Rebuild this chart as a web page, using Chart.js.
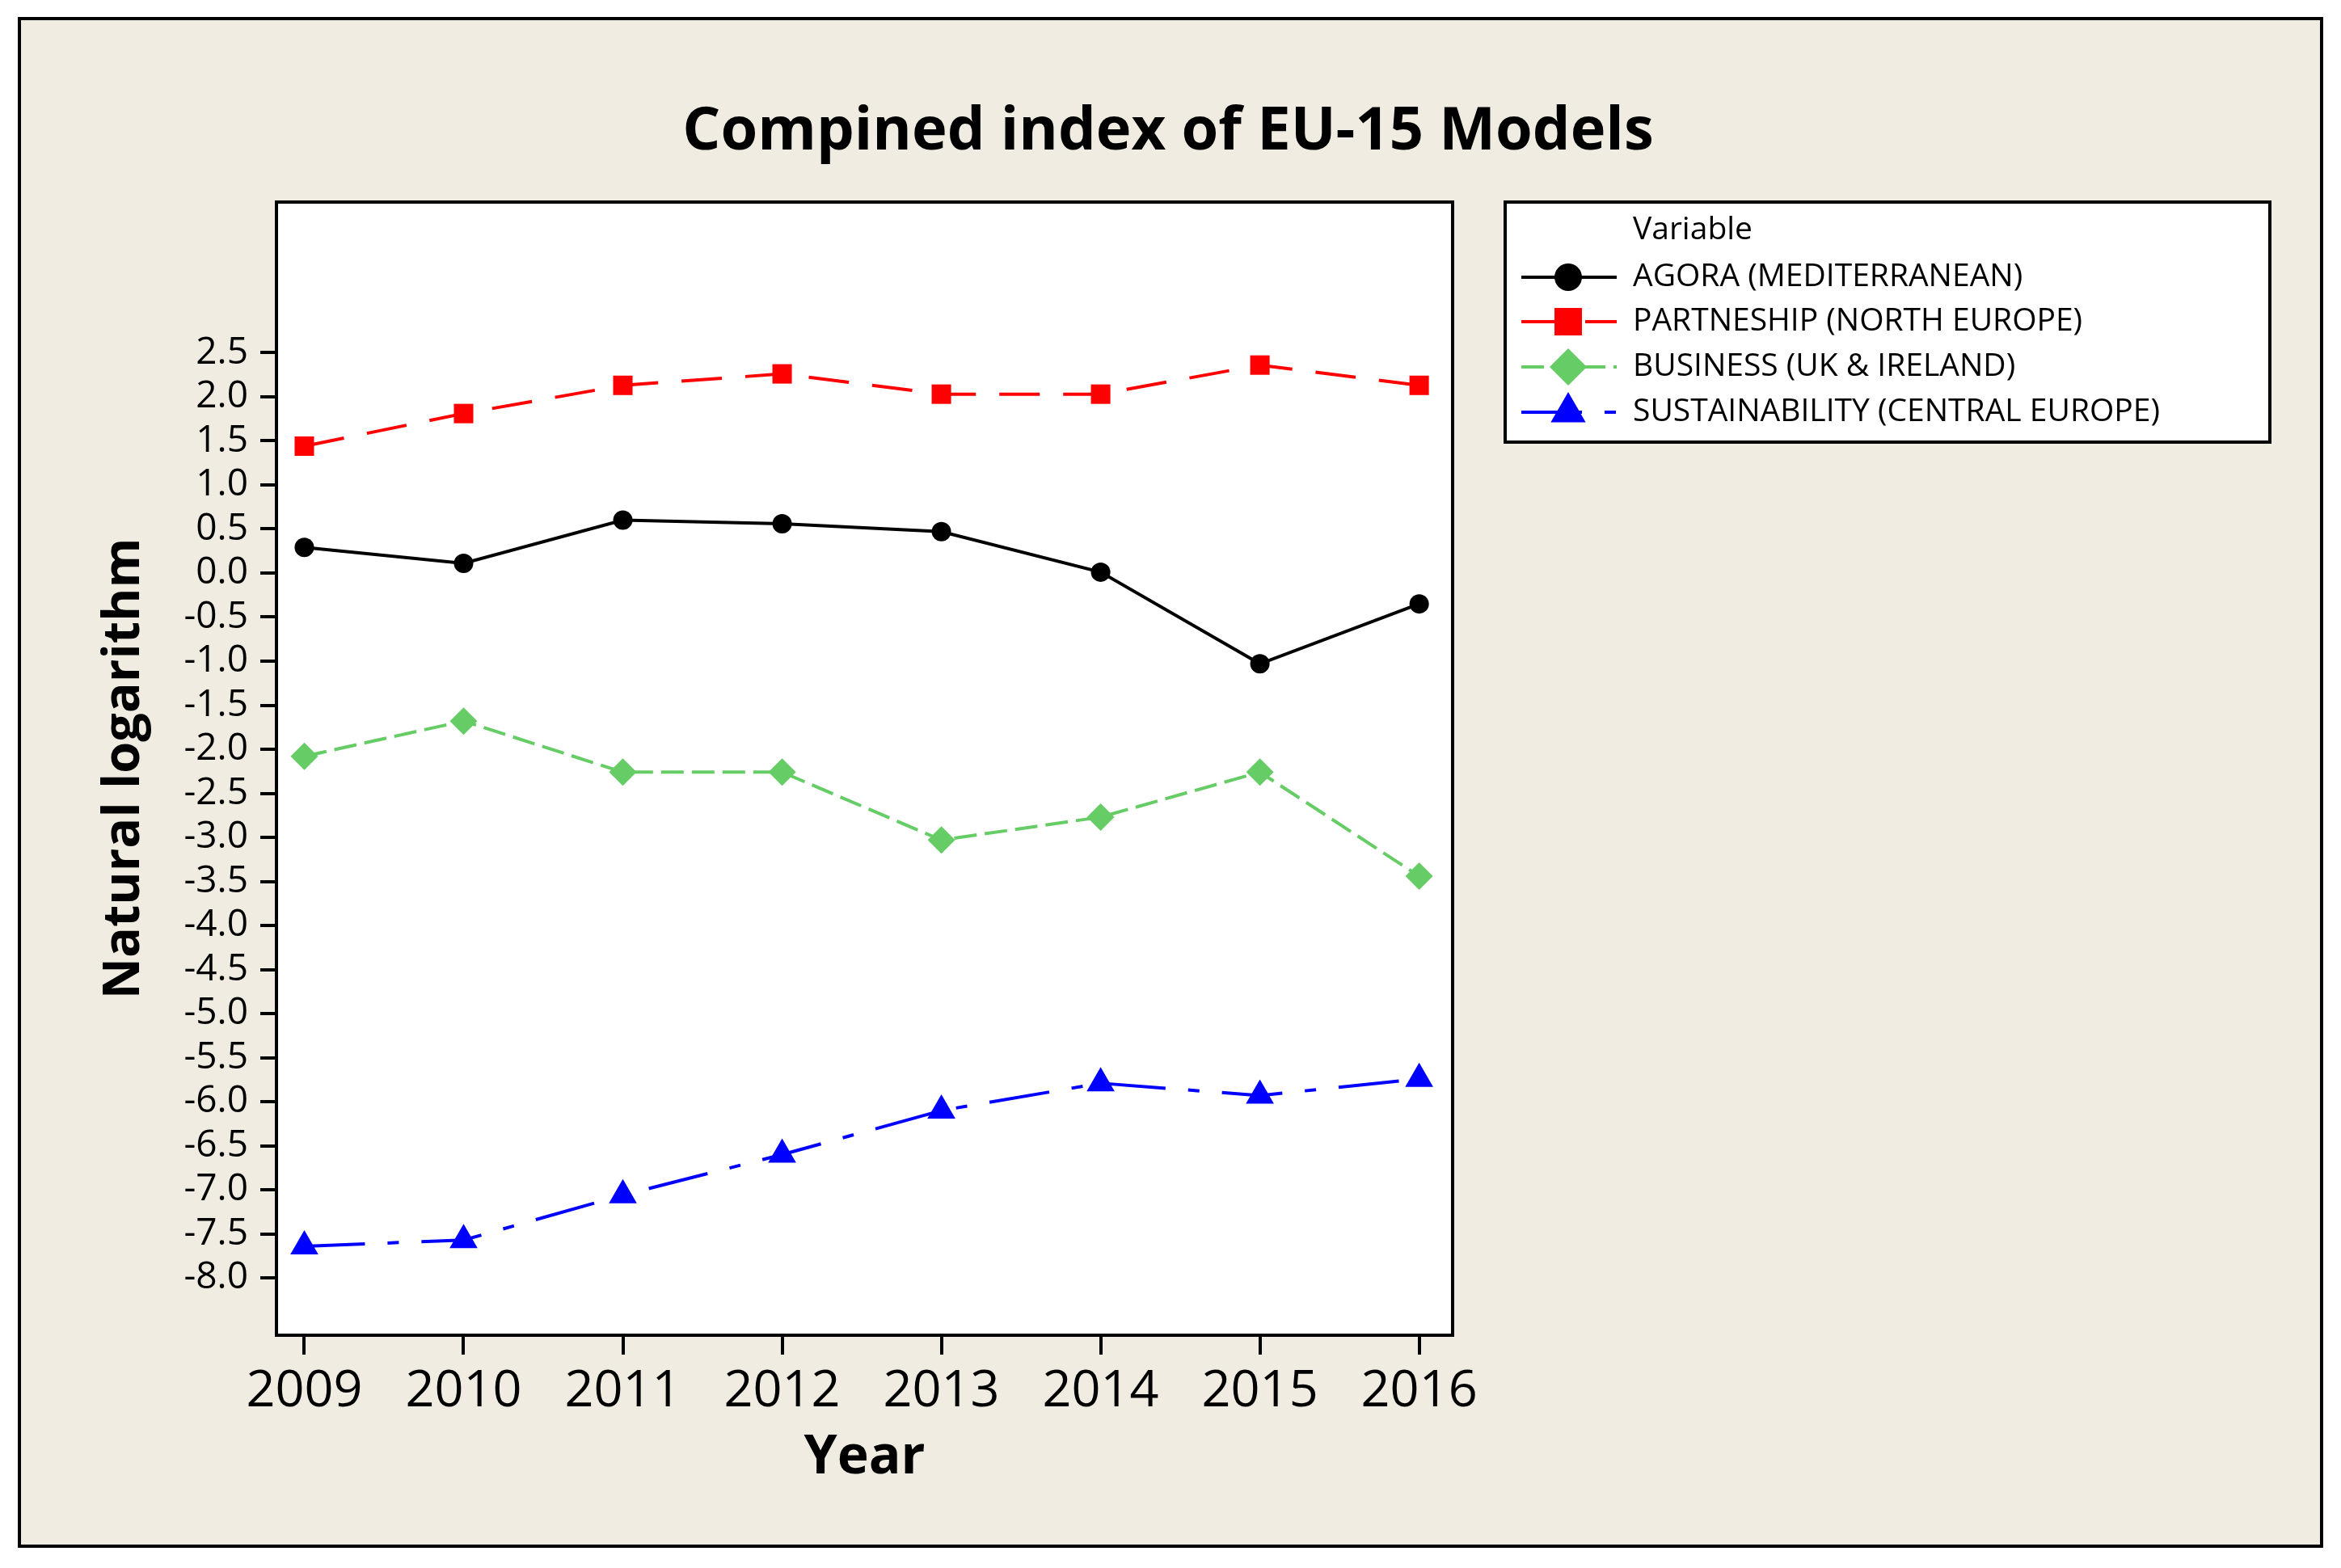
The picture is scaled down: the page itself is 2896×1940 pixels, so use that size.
<!DOCTYPE html>
<html>
<head>
<meta charset="utf-8">
<title>Compined index of EU-15 Models</title>
<script src="https://cdn.jsdelivr.net/npm/chart.js"></script>
<style>
  html, body { margin: 0; padding: 0; background: #ffffff; }
  #chart { display: block; }
</style>
</head>
<body>
<canvas id="chart" width="2896" height="1940"></canvas>
<script>
// values
const years = [2009, 2010, 2011, 2012, 2013, 2014, 2015, 2016];
const agora = [0.29, 0.11, 0.60, 0.56, 0.47, 0.01, -1.03, -0.35];
const partnership = [1.44, 1.81, 2.13, 2.26, 2.03, 2.03, 2.36, 2.13];
const business = [-2.08, -1.68, -2.26, -2.26, -3.03, -2.77, -2.26, -3.44];
const sustainability = [-7.64, -7.57, -7.06, -6.60, -6.10, -5.79, -5.93, -5.74];
const seriesNames = [
    "AGORA (MEDITERRANEAN)",
    "PARTNESHIP (NORTH EUROPE)",
    "BUSINESS (UK & IRELAND)",
    "SUSTAINABILITY (CENTRAL EUROPE)"
];
const yTickValues = [2.5, 2.0, 1.5, 1.0, 0.5, 0.0, -0.5, -1.0, -1.5, -2.0, -2.5, -3.0, -3.5,
    -4.0, -4.5, -5.0, -5.5, -6.0, -6.5, -7.0, -7.5, -8.0];

const FONT = "'Open Sans', 'Noto Sans', 'DejaVu Sans', sans-serif";
const BEIGE = "#f0ece2";

function points(values) {
    return years.map((yr, i) => ({ x: yr, y: values[i] }));
}

function makeSet(label, values, color, dash, style, radius, legendRadius) {
    return {
        label: label,
        data: points(values),
        borderColor: color,
        backgroundColor: color,
        borderWidth: 4,
        borderDash: dash,
        tension: 0,
        pointStyle: style,
        pointRadius: radius,
        pointBackgroundColor: color,
        pointBorderColor: color,
        pointBorderWidth: 0,
        legendRadius: legendRadius,
        clip: false
    };
}

const datasets = [
    makeSet(seriesNames[0], agora, "#000000", [], "circle", 12, 17),
    makeSet(seriesNames[1], partnership, "#ff0000", [50, 29], "rect", 17, 24),
    makeSet(seriesNames[2], business, "#66cc66", [28, 10], "rectRot", 17, 23),
    makeSet(seriesNames[3], sustainability, "#0000ff", [75, 28, 14, 28], "triangle", 20, 25)
];

// small marker painter for the legend box
function marker(ctx, style, x, y, r) {
    ctx.beginPath();
    if (style === "circle") {
        ctx.arc(x, y, r, 0, Math.PI * 2);
    } else if (style === "rect") {
        const s = r * Math.SQRT1_2;
        ctx.rect(x - s, y - s, 2 * s, 2 * s);
    } else if (style === "rectRot") {
        ctx.moveTo(x - r, y);
        ctx.lineTo(x, y - r);
        ctx.lineTo(x + r, y);
        ctx.lineTo(x, y + r);
        ctx.closePath();
    } else {
        ctx.moveTo(x, y - r);
        ctx.lineTo(x + r * Math.sin(2 * Math.PI / 3), y + r / 2);
        ctx.lineTo(x - r * Math.sin(2 * Math.PI / 3), y + r / 2);
        ctx.closePath();
    }
    ctx.fill();
}

const framePlugin = {
    id: "frame",
    beforeDraw(chart) {
        const ctx = chart.ctx;
        const a = chart.chartArea;
        ctx.save();
        ctx.fillStyle = "#ffffff";
        ctx.fillRect(0, 0, chart.width, chart.height);
        ctx.fillStyle = BEIGE;
        ctx.fillRect(24, 23, 2848, 1890);
        ctx.strokeStyle = "#000000";
        ctx.lineWidth = 4;
        ctx.strokeRect(24, 23, 2848, 1890);
        ctx.fillStyle = "#ffffff";
        ctx.fillRect(a.left, a.top, a.right - a.left, a.bottom - a.top);
        ctx.restore();
    },
    beforeDatasetsDraw(chart) {
        const ctx = chart.ctx;
        const a = chart.chartArea;
        ctx.save();
        ctx.strokeStyle = "#000000";
        ctx.lineWidth = 4;
        ctx.strokeRect(a.left, a.top, a.right - a.left, a.bottom - a.top);
        ctx.restore();
    },
    afterDraw(chart) {
        const ctx = chart.ctx;
        ctx.save();
        // main title
        ctx.fillStyle = "#000000";
        ctx.font = "bold 74px " + FONT;
        ctx.textAlign = "center";
        ctx.textBaseline = "alphabetic";
        ctx.fillText("Compined index of EU-15 Models", 1445, 185);

        // legend box
        ctx.fillStyle = "#ffffff";
        ctx.fillRect(1862, 250, 946, 297);
        ctx.strokeStyle = "#000000";
        ctx.lineWidth = 4;
        ctx.strokeRect(1862, 250, 946, 297);

        ctx.fillStyle = "#000000";
        ctx.font = "39px " + FONT;
        ctx.textAlign = "left";
        ctx.textBaseline = "middle";
        ctx.fillText("Variable", 2020, 285);

        const rowY = [343, 398, 454, 510];
        chart.data.datasets.forEach((ds, i) => {
            const y = rowY[i];
            ctx.save();
            ctx.strokeStyle = ds.borderColor;
            ctx.lineWidth = 4;
            ctx.setLineDash(ds.borderDash);
            ctx.beginPath();
            ctx.moveTo(1882, y);
            ctx.lineTo(2000, y);
            ctx.stroke();
            ctx.setLineDash([]);
            ctx.fillStyle = ds.backgroundColor;
            marker(ctx, ds.pointStyle, 1940, y, ds.legendRadius);
            ctx.restore();
            ctx.fillText(ds.label, 2020, y);
        });
        ctx.restore();
    }
};

new Chart(document.getElementById("chart").getContext("2d"), {
    type: "line",
    data: { datasets: datasets },
    options: {
        responsive: false,
        devicePixelRatio: 1,
        animation: false,
        events: [],
        layout: { padding: { left: 0, top: 250, right: 1099, bottom: 96 } },
        plugins: {
            legend: { display: false },
            title: { display: false },
            tooltip: { enabled: false }
        },
        scales: {
            x: {
                type: "linear",
                min: 2008.825,
                max: 2016.21,
                afterBuildTicks: scale => { scale.ticks = years.map(v => ({ value: v })); },
                afterFit: scale => { scale.height = 192; },
                grid: { drawOnChartArea: false, tickLength: 24, color: "#000000", lineWidth: 4 },
                border: { display: true, color: "#000000", width: 4 },
                ticks: {
                    color: "#000000",
                    padding: 8,
                    maxRotation: 0,
                    font: { family: FONT, size: 63 },
                    callback: v => String(v)
                },
                title: {
                    display: true,
                    text: "Year",
                    color: "#000000",
                    padding: { top: 0, bottom: 0 },
                    font: { family: FONT, size: 66, weight: "bold" }
                }
            },
            y: {
                type: "linear",
                min: -8.65,
                max: 4.21,
                afterBuildTicks: scale => { scale.ticks = yTickValues.map(v => ({ value: v })); },
                afterFit: scale => { scale.width = 342; },
                grid: { drawOnChartArea: false, tickLength: 20, color: "#000000", lineWidth: 4 },
                border: { display: true, color: "#000000", width: 4 },
                ticks: {
                    color: "#000000",
                    padding: 15,
                    font: { family: FONT, size: 46 },
                    callback: v => v.toFixed(1)
                },
                title: {
                    display: true,
                    text: "Natural logarithm",
                    color: "#000000",
                    padding: { top: 116, bottom: 0 },
                    font: { family: FONT, size: 63, weight: "bold" }
                }
            }
        }
    },
    plugins: [framePlugin]
});
</script>
</body>
</html>
